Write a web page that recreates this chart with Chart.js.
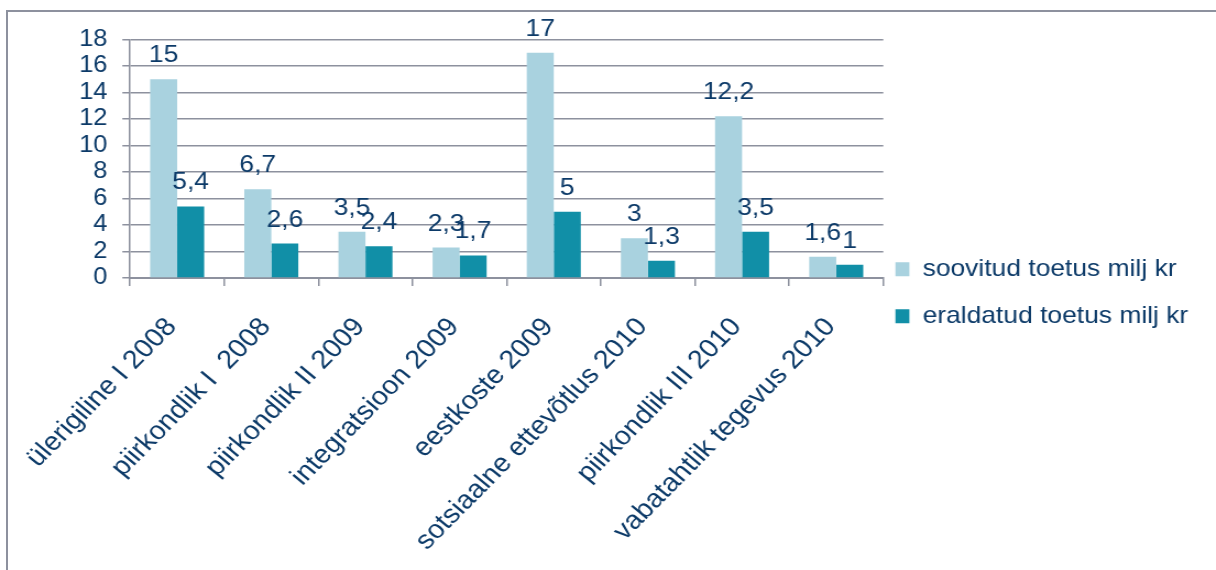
<!DOCTYPE html>
<html>
<head>
<meta charset="utf-8">
<script src="https://cdn.jsdelivr.net/npm/chart.js@4.4.1/dist/chart.umd.min.js"></script>
<style>
  html, body { margin: 0; padding: 0; background: #fff; overflow: hidden; }
  body { width: 1216px; height: 570px; position: relative; }
  /* marco gris del gráfico original (solo izquierda y arriba quedan visibles) */
  #frame { position: absolute; left: 6px; top: 10px; right: -10px; bottom: -10px;
           border-left: 2px solid #8d919e; border-top: 2px solid #8d919e; }
  /* el original está algo estirado en horizontal: dibujamos más angosto y escalamos */
  #wrap { position: absolute; left: 0; top: 0; width: 1105px; height: 570px;
          transform: scaleX(1.1004); transform-origin: 0 0; }
</style>
</head>
<body>
<div id="frame"></div>
<div id="wrap"><canvas id="chart" width="1105" height="570"></canvas></div>
<script>
const CATEGORIES = [
  'ülerigiline I 2008',
  'piirkondlik I  2008',
  'piirkondlik II 2009',
  'integratsioon 2009',
  'eestkoste 2009',
  'sotsiaalne ettevõtlus 2010',
  'piirkondlik III 2010',
  'vabatahtlik tegevus 2010'
];
const SOOVITUD = [15, 6.7, 3.5, 2.3, 17, 3, 12.2, 1.6];
const ERALDATUD = [5.4, 2.6, 2.4, 1.7, 5, 1.3, 3.5, 1];
const SERIES_LABELS = ['soovitud toetus milj kr', 'eraldatud toetus milj kr'];
const Y_MIN = 0, Y_MAX = 18, Y_STEP = 2;

const COLORS = { light: '#a9d2df', dark: '#118fa7', text: '#0c3a68', grid: '#8d919e' };
const FONT = "'Liberation Sans', Arial, sans-serif";

// números con coma decimal, como en el original
const fmt = v => String(v).replace('.', ',');

const valueLabels = {
  id: 'valueLabels',
  afterDatasetsDraw(chart) {
    const ctx = chart.ctx;
    ctx.save();
    ctx.font = `24px ${FONT}`;
    ctx.fillStyle = COLORS.text;
    ctx.textAlign = 'center';
    ctx.textBaseline = 'alphabetic';
    chart.data.datasets.forEach((ds, di) => {
      chart.getDatasetMeta(di).data.forEach((bar, i) => {
        ctx.fillText(fmt(ds.data[i]), bar.x, bar.y - 17);
      });
    });
    ctx.restore();
  }
};

// Chart.js limita la leyenda lateral a la mitad del ancho disponible / nº de cajas,
// y la recorta: le damos el ancho que necesita el texto.
const legendWidth = {
  id: 'legendWidth',
  beforeLayout(chart) {
    const lg = chart.legend;
    if (lg && !lg._fixedFit) {
      const orig = lg.fit;
      lg.fit = function () { orig.call(this); this.width = 287; };
      lg._fixedFit = true;
    }
  }
};

new Chart(document.getElementById('chart'), {
  type: 'bar',
  data: {
    labels: CATEGORIES,
    datasets: [
      { label: SERIES_LABELS[0], data: SOOVITUD, backgroundColor: COLORS.light },
      { label: SERIES_LABELS[1], data: ERALDATUD, backgroundColor: COLORS.dark }
    ]
  },
  options: {
    responsive: false,
    animation: false,
    devicePixelRatio: 1,
    layout: { padding: { top: 39.5, right: 15.3, bottom: 12, left: 0 } },
    datasets: { bar: { categoryPercentage: 0.574, barPercentage: 1, borderWidth: 0 } },
    plugins: {
      tooltip: { enabled: false },
      legend: {
        position: 'right',
        labels: {
          color: COLORS.text,
          font: { family: FONT, size: 24, lineHeight: 1.5 },
          boxWidth: 12.7,
          boxHeight: 14,
          padding: 11,
          generateLabels: chart =>
            Chart.defaults.plugins.legend.labels.generateLabels(chart).map(it => ({ ...it, text: [it.text] }))
        }
      }
    },
    scales: {
      x: {
        grid: { drawOnChartArea: false, drawTicks: true, tickLength: 8, color: COLORS.grid, lineWidth: 1.5 },
        border: { color: COLORS.grid, width: 2 },
        ticks: {
          color: COLORS.text, font: { family: FONT, size: 26 },
          minRotation: 48, maxRotation: 48, autoSkip: false, padding: 26, labelOffset: -5
        },
        afterFit: s => { s.height = 280; }
      },
      y: {
        min: Y_MIN, max: Y_MAX,
        grid: { color: COLORS.grid, lineWidth: 1.5, tickLength: 7 },
        border: { color: COLORS.grid, width: 1.5 },
        ticks: { stepSize: Y_STEP, autoSkip: false, color: COLORS.text, font: { family: FONT, size: 23 }, padding: 13.6 },
        afterFit: s => { s.width = 118.2; }
      }
    }
  },
  plugins: [valueLabels, legendWidth]
});
</script>
</body>
</html>
